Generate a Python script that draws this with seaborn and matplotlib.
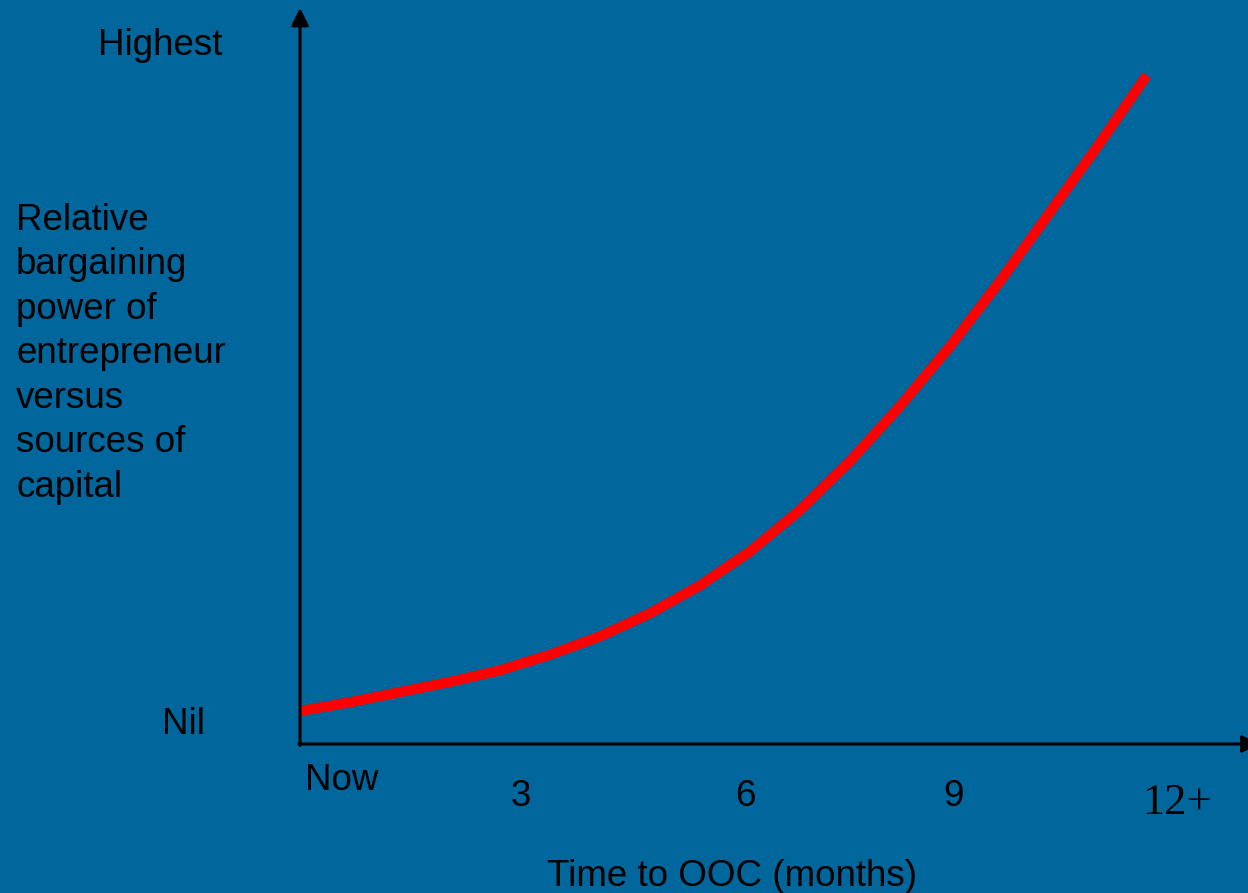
import numpy as np
import pandas as pd
import matplotlib
matplotlib.use("Agg")
import matplotlib.pyplot as plt
import seaborn as sns

# curve (months vs relative power, Nil=0, Highest=100)
months = [0, 0.69, 1.38, 2.07, 2.76, 3.45, 4.14, 4.83, 5.52, 6.21,
          6.90, 7.59, 8.28, 8.97, 9.66, 10.34, 11.03, 11.68]
power = [1.6, 2.9, 4.4, 5.9, 7.6, 9.9, 12.6, 16.0, 20.1, 25.1,
         31.2, 38.4, 46.5, 55.3, 64.9, 74.9, 85.1, 95.1]

tick_pos = [3.05, 6.14, 9.01]
tick_labels = ["3", "6", "9"]
y_label = "Relative\nbargaining\npower of\nentrepreneur\nversus\nsources of\ncapital"
x_label = "Time to OOC (months)"

BG = "#00669B"


def main():
    df = pd.DataFrame({"months": months, "power": power})

    sns.set_theme(style="white")
    plt.rcParams["font.family"] = ["Liberation Sans", "DejaVu Sans"]

    fig = plt.figure(figsize=(12.48, 8.93), dpi=100, facecolor=BG)
    W, H = 1248, 893
    ax = fig.add_axes([300 / W, (H - 744) / H, (W - 300) / W, (744 - 8) / H])
    ax.set_facecolor(BG)

    sns.lineplot(data=df, x="months", y="power", ax=ax, color="#FF0000",
                 linewidth=7.3, solid_capstyle="butt", solid_joinstyle="round",
                 clip_on=False)

    ax.set_xlim(0, 948 / 72.5)
    ax.set_ylim((722 - 744) / 6.8, (722 - 8) / 6.8)
    for s in ax.spines.values():
        s.set_visible(False)
    ax.set_xticks([])
    ax.set_yticks([])
    ax.set_xlabel("")
    ax.set_ylabel("")

    # axes with arrow heads
    arrow = dict(arrowstyle="-|>", lw=2.2, color="black",
                 mutation_scale=26, shrinkA=0, shrinkB=0)
    ax.annotate("", xy=(0, 1), xytext=(0, -0.002), xycoords="axes fraction",
                arrowprops=arrow)
    ax.annotate("", xy=(1.012, 0), xytext=(-0.001, 0), xycoords="axes fraction",
                arrowprops=arrow, annotation_clip=False)

    fs = 26.5
    ax.text(5 / 72.5, (722 - 781) / 6.8, "Now", fontsize=fs,
            ha="left", va="center", color="black", clip_on=False)
    for p, lab in zip(tick_pos, tick_labels):
        ax.text(p, (722 - 796) / 6.8, lab,
                fontsize=fs, ha="center", va="center", color="black")
    ax.text(12.1, (722 - 803) / 6.8, "12+", fontsize=32,
            family=["Liberation Serif", "DejaVu Serif"],
            ha="center", va="center", color="black")

    ax.text(-78 / 72.5, (722 - 46) / 6.8, "Highest", fontsize=fs, ha="right",
            va="center", color="black")
    ax.text(-95 / 72.5, (722 - 725) / 6.8, "Nil", fontsize=fs, ha="right",
            va="center", color="black")

    fig.text(16 / W, 1 - 203 / H, y_label, fontsize=fs, ha="left",
             va="top", linespacing=1.35, color="black")
    fig.text(732 / W, 1 - 877 / H, x_label, fontsize=fs, ha="center",
             va="center", color="black")

    fig.savefig("out.png", facecolor=BG)


if __name__ == "__main__":
    main()
